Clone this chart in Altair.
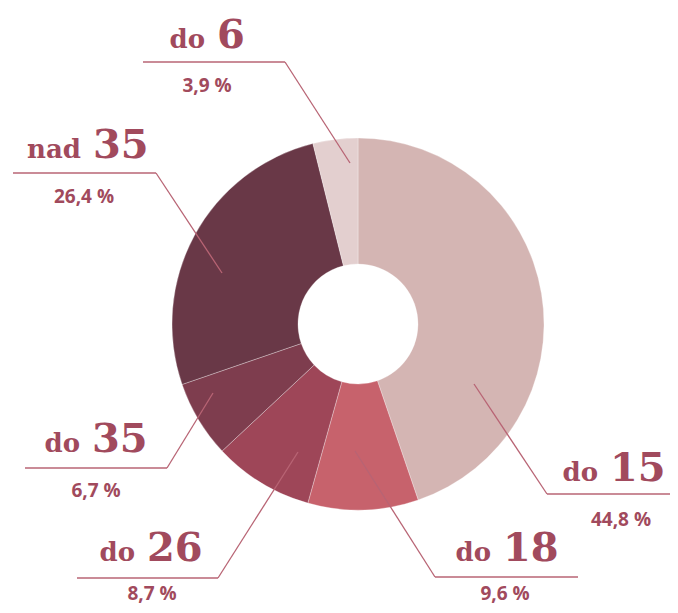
import altair as alt
import pandas as pd

# ---- data ----
categories = ["do 15", "do 18", "do 26", "do 35", "nad 35", "do 6"]
prefixes = ["do", "do", "do", "do", "nad", "do"]
numbers = ["15", "18", "26", "35", "35", "6"]
shares = [44.8, 9.6, 8.7, 6.7, 26.4, 3.9]
colors = ["#d4b5b3", "#c7626c", "#9e4658", "#7e3d4e", "#693847", "#e3cfcf"]

# ---- layout (page pixel coordinates of annotations) ----
OFF = 8  # page margin
prefix_right = [598, 491, 135, 80, 81, 205]
label_base = [481, 561, 561, 452, 158, 48]
under_y = [494, 577, 578, 468, 173, 62]
under_x1 = [547, 435, 77, 25, 13, 143]
under_x2 = [678, 578, 218, 167, 156, 285]
attach_left = [True, True, False, False, False, False]
point_x = [474, 355, 298, 213, 222, 350]
point_y = [384, 451, 452, 393, 273, 163]
pct_x = [621, 505, 152, 96, 84, 207]
pct_base = [526, 600, 600, 497, 203, 92]

TEXT = "#a14a5d"
LINE = "#b86474"
SERIF = "DejaVu Serif"

slices = pd.DataFrame({
    "cat": categories,
    "share": shares,
    "idx": list(range(len(categories))),
})

segs = []
for i in range(len(categories)):
    segs.append({"x": under_x1[i] - OFF, "y": under_y[i] - OFF,
                 "x2": under_x2[i] - OFF, "y2": under_y[i] - OFF})
    ax = under_x1[i] if attach_left[i] else under_x2[i]
    segs.append({"x": ax - OFF, "y": under_y[i] - OFF,
                 "x2": point_x[i] - OFF, "y2": point_y[i] - OFF})
segs = pd.DataFrame(segs)

labels = pd.DataFrame({
    "pre": prefixes,
    "num": numbers,
    "pct": [f"{v:.1f}".replace(".", ",") + " %" for v in shares],
    "px": [p - OFF for p in prefix_right],
    "nx": [p - OFF + 12 for p in prefix_right],
    "ly": [b - OFF for b in label_base],
    "cx": [p - OFF for p in pct_x],
    "cy": [b - OFF for b in pct_base],
})

arc = alt.Chart(slices).mark_arc(
    outerRadius=186, innerRadius=60, stroke="white", strokeWidth=0.6, strokeOpacity=0.5
).encode(
    theta=alt.Theta("share:Q", stack=True),
    order=alt.Order("idx:Q"),
    color=alt.Color("cat:N", scale=alt.Scale(domain=categories, range=colors), legend=None),
    x=alt.value(350),
    y=alt.value(316),
)

rules = alt.Chart(segs).mark_rule(color=LINE, strokeWidth=1.3).encode(
    x=alt.X("x:Q", scale=None, axis=None),
    y=alt.Y("y:Q", scale=None, axis=None),
    x2="x2:Q",
    y2="y2:Q",
)

pre = alt.Chart(labels).mark_text(
    font=SERIF, fontWeight="bold", fontSize=26, color=TEXT,
    align="right", baseline="alphabetic"
).encode(
    x=alt.X("px:Q", scale=None, axis=None),
    y=alt.Y("ly:Q", scale=None, axis=None),
    text="pre:N",
)

num = alt.Chart(labels).mark_text(
    font=SERIF, fontWeight="bold", fontSize=40, color=TEXT,
    align="left", baseline="alphabetic"
).encode(
    x=alt.X("nx:Q", scale=None, axis=None),
    y=alt.Y("ly:Q", scale=None, axis=None),
    text="num:N",
)

pct = alt.Chart(labels).mark_text(
    font="Open Sans", fontWeight="bold", fontSize=19, color=TEXT,
    align="center", baseline="alphabetic"
).encode(
    x=alt.X("cx:Q", scale=None, axis=None),
    y=alt.Y("cy:Q", scale=None, axis=None),
    text="pct:N",
)

chart = alt.layer(arc, rules, pre, num, pct).properties(
    width=662, height=597, padding=0, autosize=alt.AutoSizeParams(type="none")
).configure_view(stroke=None)

chart.save("out.html", embed_options={"renderer": "svg", "actions": False})
